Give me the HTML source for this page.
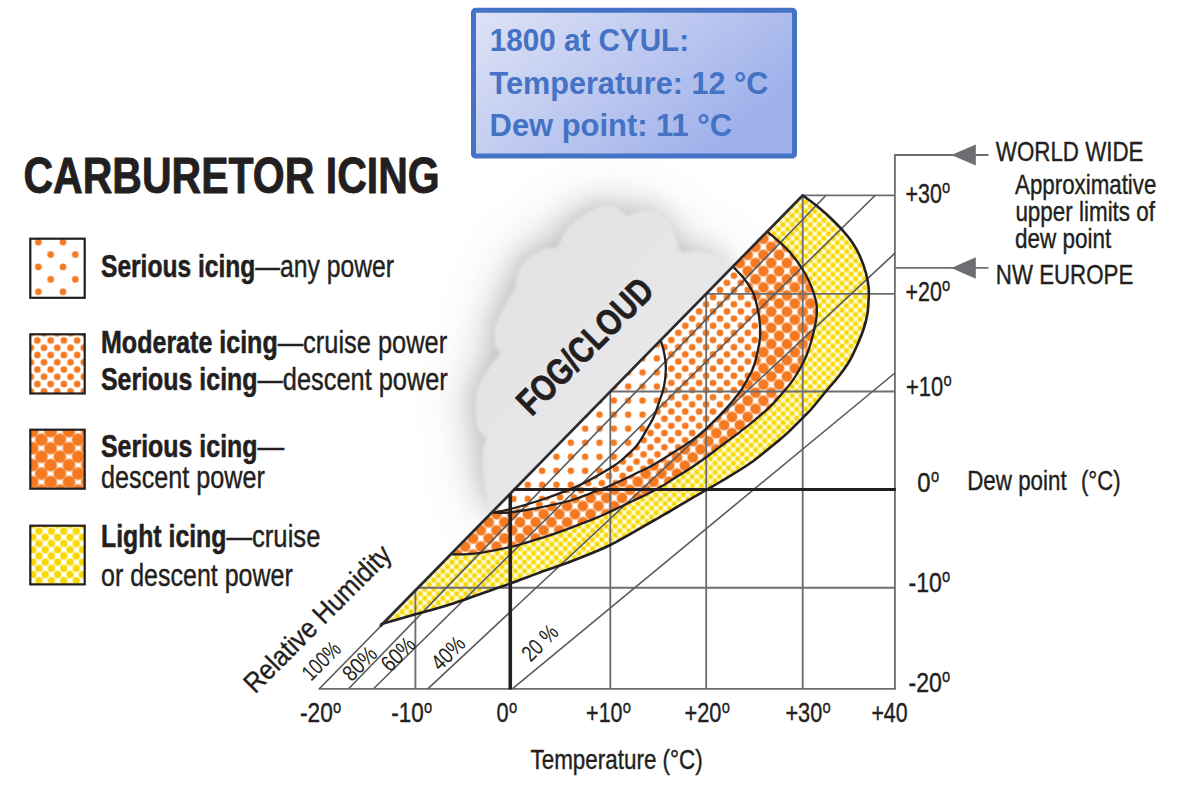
<!DOCTYPE html>
<html lang="en"><head><meta charset="utf-8"><title>Carburetor icing</title>
<style>html,body{margin:0;padding:0;background:#fff;}body{width:1184px;height:785px;overflow:hidden;}svg{display:block;font-family:"Liberation Sans",sans-serif;}</style>
</head><body>
<svg width="1184" height="785" viewBox="0 0 1184 785">
<defs>
<pattern id="pSparse" patternUnits="userSpaceOnUse" x="628.20" y="414.60" width="14.35" height="14.05"><circle cx="0.00" cy="0.00" r="3.60" fill="#f47920" opacity="0.38"/><circle cx="14.35" cy="0.00" r="3.60" fill="#f47920" opacity="0.38"/><circle cx="0.00" cy="14.05" r="3.60" fill="#f47920" opacity="0.38"/><circle cx="14.35" cy="14.05" r="3.60" fill="#f47920" opacity="0.38"/><circle cx="0.00" cy="0.00" r="3.00" fill="#f47920"/><circle cx="14.35" cy="0.00" r="3.00" fill="#f47920"/><circle cx="0.00" cy="14.05" r="3.00" fill="#f47920"/><circle cx="14.35" cy="14.05" r="3.00" fill="#f47920"/></pattern>
<pattern id="pMedium" patternUnits="userSpaceOnUse" x="664.40" y="418.70" width="13.90" height="14.30"><circle cx="0.00" cy="0.00" r="3.60" fill="#f47920" opacity="0.38"/><circle cx="13.90" cy="0.00" r="3.60" fill="#f47920" opacity="0.38"/><circle cx="0.00" cy="14.30" r="3.60" fill="#f47920" opacity="0.38"/><circle cx="13.90" cy="14.30" r="3.60" fill="#f47920" opacity="0.38"/><circle cx="6.95" cy="7.15" r="3.60" fill="#f47920" opacity="0.38"/><circle cx="0.00" cy="0.00" r="3.15" fill="#f47920"/><circle cx="13.90" cy="0.00" r="3.15" fill="#f47920"/><circle cx="0.00" cy="14.30" r="3.15" fill="#f47920"/><circle cx="13.90" cy="14.30" r="3.15" fill="#f47920"/><circle cx="6.95" cy="7.15" r="3.15" fill="#f47920"/></pattern>
<pattern id="pBig" patternUnits="userSpaceOnUse" x="763.40" y="254.90" width="15.70" height="16.20"><circle cx="0.00" cy="0.00" r="5.90" fill="#f47920" opacity="0.38"/><circle cx="15.70" cy="0.00" r="5.90" fill="#f47920" opacity="0.38"/><circle cx="0.00" cy="16.20" r="5.90" fill="#f47920" opacity="0.38"/><circle cx="15.70" cy="16.20" r="5.90" fill="#f47920" opacity="0.38"/><circle cx="7.85" cy="8.10" r="5.90" fill="#f47920" opacity="0.38"/><circle cx="0.00" cy="0.00" r="5.00" fill="#f47920"/><circle cx="15.70" cy="0.00" r="5.00" fill="#f47920"/><circle cx="0.00" cy="16.20" r="5.00" fill="#f47920"/><circle cx="15.70" cy="16.20" r="5.00" fill="#f47920"/><circle cx="7.85" cy="8.10" r="5.00" fill="#f47920"/></pattern>
<pattern id="pYel" patternUnits="userSpaceOnUse" x="842.00" y="310.20" width="9.07" height="9.00"><circle cx="0.00" cy="0.00" r="3.15" fill="#f8d800" opacity="0.38"/><circle cx="9.07" cy="0.00" r="3.15" fill="#f8d800" opacity="0.38"/><circle cx="0.00" cy="9.00" r="3.15" fill="#f8d800" opacity="0.38"/><circle cx="9.07" cy="9.00" r="3.15" fill="#f8d800" opacity="0.38"/><circle cx="4.54" cy="4.50" r="3.15" fill="#f8d800" opacity="0.38"/><circle cx="0.00" cy="0.00" r="2.25" fill="#f8d800"/><circle cx="9.07" cy="0.00" r="2.25" fill="#f8d800"/><circle cx="0.00" cy="9.00" r="2.25" fill="#f8d800"/><circle cx="9.07" cy="9.00" r="2.25" fill="#f8d800"/><circle cx="4.54" cy="4.50" r="2.25" fill="#f8d800"/></pattern>
<pattern id="lSparse" patternUnits="userSpaceOnUse" x="38.40" y="242.20" width="24.60" height="24.80"><circle cx="0.00" cy="0.00" r="3.70" fill="#f47920" opacity="0.38"/><circle cx="24.60" cy="0.00" r="3.70" fill="#f47920" opacity="0.38"/><circle cx="0.00" cy="24.80" r="3.70" fill="#f47920" opacity="0.38"/><circle cx="24.60" cy="24.80" r="3.70" fill="#f47920" opacity="0.38"/><circle cx="12.30" cy="12.40" r="3.70" fill="#f47920" opacity="0.38"/><circle cx="0.00" cy="0.00" r="3.10" fill="#f47920"/><circle cx="24.60" cy="0.00" r="3.10" fill="#f47920"/><circle cx="0.00" cy="24.80" r="3.10" fill="#f47920"/><circle cx="24.60" cy="24.80" r="3.10" fill="#f47920"/><circle cx="12.30" cy="12.40" r="3.10" fill="#f47920"/></pattern>
<pattern id="lMedium" patternUnits="userSpaceOnUse" x="37.40" y="340.50" width="13.26" height="14.52"><circle cx="0.00" cy="0.00" r="3.70" fill="#f47920" opacity="0.38"/><circle cx="13.26" cy="0.00" r="3.70" fill="#f47920" opacity="0.38"/><circle cx="0.00" cy="14.52" r="3.70" fill="#f47920" opacity="0.38"/><circle cx="13.26" cy="14.52" r="3.70" fill="#f47920" opacity="0.38"/><circle cx="6.63" cy="7.26" r="3.70" fill="#f47920" opacity="0.38"/><circle cx="0.00" cy="0.00" r="3.10" fill="#f47920"/><circle cx="13.26" cy="0.00" r="3.10" fill="#f47920"/><circle cx="0.00" cy="14.52" r="3.10" fill="#f47920"/><circle cx="13.26" cy="14.52" r="3.10" fill="#f47920"/><circle cx="6.63" cy="7.26" r="3.10" fill="#f47920"/></pattern>
<pattern id="lBig" patternUnits="userSpaceOnUse" x="41.40" y="439.70" width="18.40" height="16.94"><circle cx="0.00" cy="0.00" r="7.00" fill="#f47920" opacity="0.38"/><circle cx="18.40" cy="0.00" r="7.00" fill="#f47920" opacity="0.38"/><circle cx="0.00" cy="16.94" r="7.00" fill="#f47920" opacity="0.38"/><circle cx="18.40" cy="16.94" r="7.00" fill="#f47920" opacity="0.38"/><circle cx="9.20" cy="8.47" r="7.00" fill="#f47920" opacity="0.38"/><circle cx="0.00" cy="0.00" r="6.00" fill="#f47920"/><circle cx="18.40" cy="0.00" r="6.00" fill="#f47920"/><circle cx="0.00" cy="16.94" r="6.00" fill="#f47920"/><circle cx="18.40" cy="16.94" r="6.00" fill="#f47920"/><circle cx="9.20" cy="8.47" r="6.00" fill="#f47920"/></pattern>
<pattern id="lYel" patternUnits="userSpaceOnUse" x="39.00" y="531.10" width="12.44" height="12.40"><circle cx="0.00" cy="0.00" r="4.30" fill="#f8d800" opacity="0.38"/><circle cx="12.44" cy="0.00" r="4.30" fill="#f8d800" opacity="0.38"/><circle cx="0.00" cy="12.40" r="4.30" fill="#f8d800" opacity="0.38"/><circle cx="12.44" cy="12.40" r="4.30" fill="#f8d800" opacity="0.38"/><circle cx="6.22" cy="6.20" r="4.30" fill="#f8d800" opacity="0.38"/><circle cx="0.00" cy="0.00" r="3.40" fill="#f8d800"/><circle cx="12.44" cy="0.00" r="3.40" fill="#f8d800"/><circle cx="0.00" cy="12.40" r="3.40" fill="#f8d800"/><circle cx="12.44" cy="12.40" r="3.40" fill="#f8d800"/><circle cx="6.22" cy="6.20" r="3.40" fill="#f8d800"/></pattern>
<linearGradient id="gBlue" x1="0" y1="0" x2="1" y2="0.55"><stop offset="0" stop-color="#dee3f6"/><stop offset="0.5" stop-color="#bfcaf0"/><stop offset="1" stop-color="#9db0ea"/></linearGradient>
<linearGradient id="gCloud" x1="0" y1="0" x2="1" y2="1"><stop offset="0" stop-color="#e0e0e2"/><stop offset="0.45" stop-color="#e6e6e8"/><stop offset="1" stop-color="#ececee"/></linearGradient>
<filter id="fHalo" x="-40%" y="-40%" width="180%" height="180%"><feGaussianBlur stdDeviation="12"/></filter>
<filter id="fHalo2" x="-50%" y="-50%" width="200%" height="200%"><feGaussianBlur stdDeviation="26"/></filter>
<filter id="fSoft" x="-10%" y="-10%" width="120%" height="120%"><feGaussianBlur stdDeviation="1.6"/></filter>
<clipPath id="cpCloud"><path d="M318.2,687.6 L801.5,194.1 L802.7,0 L0,0 L0,785 L259.4,785 Z"/></clipPath>
<path id="cl" d="M742.0,259.0 C741.0,259.9 738.3,264.1 736.0,264.5 C733.7,264.9 731.5,263.1 728.3,261.6 C725.0,260.1 720.0,257.2 716.5,255.7 C713.0,254.2 710.2,253.3 707.0,252.5 C703.8,251.7 700.7,251.1 697.5,250.9 C694.3,250.7 690.8,251.5 688.0,251.5 C685.2,251.5 682.8,252.2 681.0,250.9 C679.2,249.7 678.4,246.3 677.5,244.0 C676.6,241.7 676.8,239.8 675.8,236.8 C674.8,233.8 673.8,229.7 671.5,226.1 C669.2,222.5 664.9,217.9 662.1,215.5 C659.4,213.1 657.4,212.4 655.0,211.5 C652.6,210.6 650.7,210.3 647.9,210.3 C645.1,210.3 641.4,210.6 638.0,211.5 C634.6,212.4 631.0,216.0 627.8,215.5 C624.6,215.0 622.1,210.2 619.0,208.5 C615.9,206.8 611.9,205.8 608.9,205.5 C605.9,205.2 603.6,205.8 601.0,206.5 C598.4,207.2 597.1,207.7 593.5,209.6 C589.9,211.5 583.8,214.5 579.3,217.8 C574.8,221.2 569.6,225.5 566.3,229.7 C562.9,233.8 561.0,239.8 559.2,242.7 C557.4,245.6 557.4,246.5 555.7,247.4 C554.0,248.3 551.4,247.6 549.0,248.0 C546.6,248.4 545.1,248.1 541.5,249.8 C537.9,251.5 531.0,254.7 527.3,258.0 C523.5,261.4 521.0,265.9 519.0,269.9 C517.0,273.8 515.6,278.8 515.0,281.7 C514.4,284.6 516.6,284.9 515.5,287.6 C514.4,290.4 510.6,294.4 508.4,298.2 C506.2,301.9 504.2,306.6 502.5,310.1 C500.8,313.6 499.5,316.5 498.4,319.0 C497.3,321.5 496.7,322.7 496.0,325.0 C495.3,327.3 494.6,330.2 494.3,333.0 C494.1,335.8 494.1,339.3 494.5,342.0 C494.9,344.7 496.1,347.1 497.0,349.0 C497.9,350.9 500.6,351.5 500.1,353.5 C499.6,355.5 496.1,358.2 494.0,361.0 C491.9,363.8 489.5,367.0 487.3,370.3 C485.1,373.6 482.5,377.9 481.0,381.0 C479.5,384.1 478.9,385.9 478.1,388.7 C477.3,391.5 476.4,394.3 476.0,397.9 C475.6,401.4 475.4,405.9 475.5,410.0 C475.6,414.1 475.9,418.8 476.6,422.3 C477.3,425.8 478.0,428.2 479.5,431.0 C481.0,433.8 485.1,436.3 485.7,439.1 C486.3,441.9 483.5,444.7 483.0,448.0 C482.5,451.3 482.4,454.1 482.5,459.0 C482.6,463.9 482.9,472.4 483.3,477.4 C483.7,482.4 484.3,485.4 485.0,489.0 C485.7,492.6 486.5,496.0 487.3,498.8 C488.1,501.6 489.0,503.7 490.0,506.0 C491.0,508.3 492.2,510.2 493.4,512.5 C494.6,514.8 496.4,518.8 497.0,520.0 L760,240 Z"/>
<path id="rY" d="M380.5,624.5 L802.7,195.3 C804.9,197.0 811.5,201.6 816.0,205.3 C820.5,209.0 825.7,213.4 830.0,217.5 C834.3,221.6 838.2,225.4 842.0,229.7 C845.8,234.0 849.9,238.9 853.0,243.5 C856.1,248.1 858.3,252.4 860.4,257.2 C862.5,262.0 864.4,267.5 865.8,272.5 C867.2,277.5 868.1,282.4 868.6,287.0 C869.1,291.6 868.8,295.5 868.6,300.0 C868.4,304.5 868.2,309.2 867.4,314.0 C866.6,318.8 865.3,323.8 863.6,329.0 C861.9,334.2 859.6,339.7 857.3,345.0 C854.9,350.3 852.5,355.8 849.5,361.0 C846.5,366.2 843.0,370.8 839.0,376.0 C835.0,381.2 830.0,386.5 825.4,392.0 C820.8,397.5 815.2,404.7 811.4,409.0 C807.6,413.3 806.8,413.7 802.7,417.8 C798.6,421.9 791.4,429.3 787.0,433.4 C782.6,437.5 782.4,437.5 776.3,442.4 C770.2,447.3 759.9,456.4 750.5,463.0 C741.1,469.6 727.4,477.5 720.0,482.0 C712.6,486.5 711.2,487.1 706.2,490.0 C701.2,492.9 696.5,495.5 690.0,499.3 C683.5,503.1 672.9,509.6 667.0,513.0 C661.1,516.5 664.2,514.7 654.7,520.0 C645.2,525.3 624.1,538.2 610.3,545.0 C596.5,551.8 584.0,556.3 572.0,561.0 C560.0,565.7 548.4,569.4 538.2,573.1 C528.0,576.9 517.3,581.1 510.6,583.5 C503.9,585.9 508.2,584.2 498.0,587.7 C487.8,591.2 462.9,600.4 449.1,604.8 C435.3,609.2 425.8,611.3 415.4,614.3 C405.0,617.3 392.5,620.9 386.7,622.6 C380.9,624.3 381.5,624.2 380.5,624.5 Z"/>
<path id="rB" d="M452.7,554.4 L767.2,231.6 C769.2,233.3 775.4,238.2 779.5,242.0 C783.6,245.8 787.8,249.6 791.7,254.2 C795.6,258.8 799.7,264.7 802.7,269.5 C805.8,274.3 808.1,279.1 810.0,283.2 C811.9,287.3 812.9,290.4 814.0,294.0 C815.1,297.6 816.2,301.3 816.6,305.0 C817.0,308.7 816.9,312.5 816.6,316.0 C816.3,319.5 815.6,322.8 815.0,326.0 C814.4,329.2 814.0,331.2 812.9,335.3 C811.8,339.4 810.1,345.8 808.4,350.6 C806.7,355.4 805.1,359.0 802.5,364.0 C799.9,369.0 795.6,376.1 792.6,380.6 C789.6,385.1 788.0,386.6 784.4,390.8 C780.8,395.1 775.5,401.3 770.7,406.1 C765.9,410.9 760.5,415.3 755.4,419.6 C750.3,423.9 744.2,428.6 740.1,431.8 C736.0,435.0 734.4,436.0 731.0,438.6 C727.6,441.2 723.6,444.1 719.5,447.2 C715.4,450.3 711.1,453.8 706.2,457.3 C701.3,460.9 695.0,465.2 690.0,468.5 C685.0,471.8 681.2,473.9 676.0,477.2 C670.8,480.4 665.6,484.3 659.0,488.0 C652.4,491.7 644.5,495.4 636.4,499.3 C628.3,503.2 617.2,508.4 610.3,511.6 C603.4,514.8 601.4,515.8 595.0,518.4 C588.6,521.0 580.0,524.3 572.0,527.3 C564.0,530.3 555.1,533.6 547.3,536.2 C539.5,538.8 531.1,541.2 525.0,543.0 C518.9,544.8 517.5,545.5 510.6,547.0 C503.7,548.5 490.8,551.1 483.7,552.3 C476.6,553.5 473.2,553.9 468.0,554.2 C462.8,554.6 455.2,554.4 452.7,554.4 Z"/>
<path id="rM" d="M493.6,512.6 L732.9,266.5 C734.5,268.3 739.9,273.6 742.8,277.1 C745.7,280.7 748.5,284.8 750.4,287.8 C752.3,290.8 752.8,291.6 754.0,295.0 C755.2,298.4 756.6,303.8 757.5,308.0 C758.4,312.2 759.0,315.4 759.5,320.0 C760.0,324.6 760.5,330.2 760.2,335.3 C759.9,340.4 759.1,345.0 757.9,350.6 C756.7,356.2 755.2,363.0 752.8,368.9 C750.4,374.8 745.5,382.5 743.4,386.2 C741.3,389.9 743.0,387.5 740.3,391.1 C737.6,394.7 732.6,401.4 727.0,407.6 C721.4,413.8 712.5,422.8 706.6,428.3 C700.7,433.8 698.1,435.9 691.5,440.6 C684.9,445.3 673.6,452.3 667.0,456.5 C660.4,460.7 656.8,462.9 651.7,465.7 C646.6,468.5 643.3,470.0 636.4,473.3 C629.5,476.6 618.0,482.2 610.4,485.5 C602.8,488.8 596.5,490.9 590.6,493.2 C584.8,495.4 581.0,497.2 575.3,499.0 C569.6,500.8 564.6,502.1 556.4,504.0 C548.1,505.9 534.4,508.7 525.8,510.2 C517.2,511.7 510.4,512.4 505.0,512.8 C499.6,513.2 495.5,512.6 493.6,512.6 Z"/>
<path id="rS" d="M493.6,512.6 L660.6,340.2 C661.1,341.8 662.7,346.7 663.5,350.0 C664.3,353.3 664.9,356.7 665.3,360.0 C665.7,363.3 665.9,366.5 665.8,370.0 C665.7,373.5 665.4,377.4 664.9,381.0 C664.4,384.6 663.6,388.2 662.7,391.5 C661.8,394.8 660.9,396.9 659.5,401.0 C658.1,405.1 656.2,411.2 654.1,416.0 C652.0,420.8 649.7,424.7 646.7,429.7 C643.8,434.7 640.7,440.9 636.4,446.0 C632.1,451.1 625.4,456.8 621.1,460.5 C616.8,464.2 615.5,464.8 610.4,468.0 C605.3,471.2 596.5,476.3 590.6,479.5 C584.8,482.7 580.4,484.8 575.3,487.1 C570.2,489.4 565.7,491.1 560.0,493.2 C554.3,495.3 549.3,497.4 541.1,500.0 C532.9,502.6 518.5,506.9 510.6,509.0 C502.7,511.1 496.4,512.0 493.6,512.6 Z"/>
</defs>
<rect width="1184" height="785" fill="#fff"/>
<g clip-path="url(#cpCloud)">
<use href="#cl" fill="#808084" opacity="0.34" filter="url(#fHalo2)" transform="translate(-8,-4)"/>
<use href="#cl" fill="#808084" opacity="0.34" filter="url(#fHalo)" transform="translate(-3,-2)"/>
<use href="#cl" fill="url(#gCloud)" filter="url(#fSoft)"/>
</g>
<use href="#rY" fill="#fffdf0"/><use href="#rY" fill="url(#pYel)"/>
<use href="#rB" fill="#fff"/><use href="#rB" fill="url(#pBig)"/>
<use href="#rM" fill="#fff"/><use href="#rM" fill="url(#pMedium)"/>
<use href="#rS" fill="#fff"/><use href="#rS" fill="url(#pSparse)"/>
<g stroke="#6d6e71" stroke-width="1.85" fill="none" stroke-linecap="butt">
<line x1="415.4" y1="590.8" x2="415.4" y2="688.8"/>
<line x1="511.2" y1="493.0" x2="511.2" y2="688.8"/>
<line x1="610.3" y1="391.8" x2="610.3" y2="688.8"/>
<line x1="706.2" y1="293.8" x2="706.2" y2="688.8"/>
<line x1="802.7" y1="195.3" x2="802.7" y2="688.8"/>
<line x1="802.7" y1="195.3" x2="894.9" y2="195.3"/>
<line x1="706.1" y1="293.9" x2="894.9" y2="293.9"/>
<line x1="610.6" y1="391.5" x2="894.9" y2="391.5"/>
<line x1="514.3" y1="489.8" x2="894.9" y2="489.8"/>
<line x1="418.4" y1="587.7" x2="894.9" y2="587.7"/>
<line x1="318.4" y1="688.8" x2="895.8" y2="688.8"/>
<line x1="894.9" y1="155" x2="894.9" y2="688.8"/>
<g stroke="#5a5a5d" stroke-width="1.6">
<line x1="319.4" y1="688.8" x2="802.7" y2="195.3"/>
<line x1="348.6" y1="688.8" x2="826.1" y2="195.3"/>
<line x1="373.5" y1="688.8" x2="875.3" y2="195.3"/>
<line x1="427.8" y1="688.8" x2="894.9" y2="253.2"/>
<line x1="512.3" y1="688.8" x2="894.9" y2="373.0"/>
</g>
<line x1="894.0" y1="155" x2="988.5" y2="155"/>
<line x1="894.9" y1="267.9" x2="988.5" y2="267.9"/>
</g>
<path d="M951.3,155 L975.8,144.6 L975.8,165.6 Z" fill="#6d6e71"/>
<path d="M951.3,267.9 L975.8,257.2 L975.8,278.8 Z" fill="#6d6e71"/>
<g stroke="#231f20" fill="none" stroke-linecap="round" stroke-linejoin="round">
<path d="M660.6,340.2 C661.1,341.8 662.7,346.7 663.5,350.0 C664.3,353.3 664.9,356.7 665.3,360.0 C665.7,363.3 665.9,366.5 665.8,370.0 C665.7,373.5 665.4,377.4 664.9,381.0 C664.4,384.6 663.6,388.2 662.7,391.5 C661.8,394.8 660.9,396.9 659.5,401.0 C658.1,405.1 656.2,411.2 654.1,416.0 C652.0,420.8 649.7,424.7 646.7,429.7 C643.8,434.7 640.7,440.9 636.4,446.0 C632.1,451.1 625.4,456.8 621.1,460.5 C616.8,464.2 615.5,464.8 610.4,468.0 C605.3,471.2 596.5,476.3 590.6,479.5 C584.8,482.7 580.4,484.8 575.3,487.1 C570.2,489.4 565.7,491.1 560.0,493.2 C554.3,495.3 549.3,497.4 541.1,500.0 C532.9,502.6 518.5,506.9 510.6,509.0 C502.7,511.1 496.4,512.0 493.6,512.6" stroke-width="2.3"/>
<path d="M732.9,266.5 C734.5,268.3 739.9,273.6 742.8,277.1 C745.7,280.7 748.5,284.8 750.4,287.8 C752.3,290.8 752.8,291.6 754.0,295.0 C755.2,298.4 756.6,303.8 757.5,308.0 C758.4,312.2 759.0,315.4 759.5,320.0 C760.0,324.6 760.5,330.2 760.2,335.3 C759.9,340.4 759.1,345.0 757.9,350.6 C756.7,356.2 755.2,363.0 752.8,368.9 C750.4,374.8 745.5,382.5 743.4,386.2 C741.3,389.9 743.0,387.5 740.3,391.1 C737.6,394.7 732.6,401.4 727.0,407.6 C721.4,413.8 712.5,422.8 706.6,428.3 C700.7,433.8 698.1,435.9 691.5,440.6 C684.9,445.3 673.6,452.3 667.0,456.5 C660.4,460.7 656.8,462.9 651.7,465.7 C646.6,468.5 643.3,470.0 636.4,473.3 C629.5,476.6 618.0,482.2 610.4,485.5 C602.8,488.8 596.5,490.9 590.6,493.2 C584.8,495.4 581.0,497.2 575.3,499.0 C569.6,500.8 564.6,502.1 556.4,504.0 C548.1,505.9 534.4,508.7 525.8,510.2 C517.2,511.7 510.4,512.4 505.0,512.8 C499.6,513.2 495.5,512.6 493.6,512.6" stroke-width="2.3"/>
<path d="M767.2,231.6 C769.2,233.3 775.4,238.2 779.5,242.0 C783.6,245.8 787.8,249.6 791.7,254.2 C795.6,258.8 799.7,264.7 802.7,269.5 C805.8,274.3 808.1,279.1 810.0,283.2 C811.9,287.3 812.9,290.4 814.0,294.0 C815.1,297.6 816.2,301.3 816.6,305.0 C817.0,308.7 816.9,312.5 816.6,316.0 C816.3,319.5 815.6,322.8 815.0,326.0 C814.4,329.2 814.0,331.2 812.9,335.3 C811.8,339.4 810.1,345.8 808.4,350.6 C806.7,355.4 805.1,359.0 802.5,364.0 C799.9,369.0 795.6,376.1 792.6,380.6 C789.6,385.1 788.0,386.6 784.4,390.8 C780.8,395.1 775.5,401.3 770.7,406.1 C765.9,410.9 760.5,415.3 755.4,419.6 C750.3,423.9 744.2,428.6 740.1,431.8 C736.0,435.0 734.4,436.0 731.0,438.6 C727.6,441.2 723.6,444.1 719.5,447.2 C715.4,450.3 711.1,453.8 706.2,457.3 C701.3,460.9 695.0,465.2 690.0,468.5 C685.0,471.8 681.2,473.9 676.0,477.2 C670.8,480.4 665.6,484.3 659.0,488.0 C652.4,491.7 644.5,495.4 636.4,499.3 C628.3,503.2 617.2,508.4 610.3,511.6 C603.4,514.8 601.4,515.8 595.0,518.4 C588.6,521.0 580.0,524.3 572.0,527.3 C564.0,530.3 555.1,533.6 547.3,536.2 C539.5,538.8 531.1,541.2 525.0,543.0 C518.9,544.8 517.5,545.5 510.6,547.0 C503.7,548.5 490.8,551.1 483.7,552.3 C476.6,553.5 473.2,553.9 468.0,554.2 C462.8,554.6 455.2,554.4 452.7,554.4" stroke-width="2.3"/>
<path d="M802.7,195.3 C804.9,197.0 811.5,201.6 816.0,205.3 C820.5,209.0 825.7,213.4 830.0,217.5 C834.3,221.6 838.2,225.4 842.0,229.7 C845.8,234.0 849.9,238.9 853.0,243.5 C856.1,248.1 858.3,252.4 860.4,257.2 C862.5,262.0 864.4,267.5 865.8,272.5 C867.2,277.5 868.1,282.4 868.6,287.0 C869.1,291.6 868.8,295.5 868.6,300.0 C868.4,304.5 868.2,309.2 867.4,314.0 C866.6,318.8 865.3,323.8 863.6,329.0 C861.9,334.2 859.6,339.7 857.3,345.0 C854.9,350.3 852.5,355.8 849.5,361.0 C846.5,366.2 843.0,370.8 839.0,376.0 C835.0,381.2 830.0,386.5 825.4,392.0 C820.8,397.5 815.2,404.7 811.4,409.0 C807.6,413.3 806.8,413.7 802.7,417.8 C798.6,421.9 791.4,429.3 787.0,433.4 C782.6,437.5 782.4,437.5 776.3,442.4 C770.2,447.3 759.9,456.4 750.5,463.0 C741.1,469.6 727.4,477.5 720.0,482.0 C712.6,486.5 711.2,487.1 706.2,490.0 C701.2,492.9 696.5,495.5 690.0,499.3 C683.5,503.1 672.9,509.6 667.0,513.0 C661.1,516.5 664.2,514.7 654.7,520.0 C645.2,525.3 624.1,538.2 610.3,545.0 C596.5,551.8 584.0,556.3 572.0,561.0 C560.0,565.7 548.4,569.4 538.2,573.1 C528.0,576.9 517.3,581.1 510.6,583.5 C503.9,585.9 508.2,584.2 498.0,587.7 C487.8,591.2 462.9,600.4 449.1,604.8 C435.3,609.2 425.8,611.3 415.4,614.3 C405.0,617.3 392.5,620.9 386.7,622.6 C380.9,624.3 381.5,624.2 380.5,624.5" stroke-width="2.6" stroke-linecap="butt"/>
<line x1="380.0" y1="626.5" x2="803.3" y2="194.7" stroke="#2c2c30" stroke-width="2.7" stroke-linecap="butt"/>
<line x1="513.5" y1="489.5" x2="895.8" y2="489.5" stroke-width="3.1" stroke-linecap="butt"/>
<line x1="510.2" y1="494.5" x2="510.2" y2="689.6" stroke-width="3.5" stroke-linecap="butt"/>
</g>
<rect x="473.5" y="10.3" width="321" height="145.8" rx="2.2" fill="url(#gBlue)" stroke="#4472c4" stroke-width="5"/>
<text x="489.8" y="51.0" font-size="31" font-weight="bold" textLength="199.3" lengthAdjust="spacingAndGlyphs" fill="#4472c4" >1800 at CYUL:</text>
<text x="489.6" y="93.7" font-size="31" font-weight="bold" textLength="278.7" lengthAdjust="spacingAndGlyphs" fill="#4472c4" >Temperature: 12 °C</text>
<text x="489.6" y="136.2" font-size="31" font-weight="bold" textLength="242.4" lengthAdjust="spacingAndGlyphs" fill="#4472c4" >Dew point: 11 °C</text>
<text x="23.4" y="193.2" font-size="50.6" font-weight="bold" textLength="416.4" lengthAdjust="spacingAndGlyphs" fill="#231f20" stroke="#231f20" stroke-width="0.9" stroke-linejoin="round">CARBURETOR ICING</text>
<rect x="30.3" y="238.7" width="54.4" height="59.1" fill="#fff"/>
<rect x="30.3" y="238.7" width="54.4" height="59.1" fill="url(#lSparse)" stroke="#231f20" stroke-width="2.2"/>
<rect x="30.3" y="334.3" width="54.4" height="59.2" fill="#fff"/>
<rect x="30.3" y="334.3" width="54.4" height="59.2" fill="url(#lMedium)" stroke="#231f20" stroke-width="2.2"/>
<rect x="30.3" y="429.7" width="54.4" height="59.0" fill="#fff"/>
<rect x="30.3" y="429.7" width="54.4" height="59.0" fill="url(#lBig)" stroke="#231f20" stroke-width="2.2"/>
<rect x="30.3" y="525.7" width="54.4" height="58.7" fill="#fff"/>
<rect x="30.3" y="525.7" width="54.4" height="58.7" fill="url(#lYel)" stroke="#231f20" stroke-width="2.2"/>
<text x="101.0" y="276.9" font-size="30.6" font-weight="bold" textLength="154.2" lengthAdjust="spacingAndGlyphs" fill="#231f20" stroke="#231f20" stroke-width="0.55" stroke-linejoin="round">Serious icing</text>
<text x="255.2" y="276.9" font-size="30.6" textLength="138.9" lengthAdjust="spacingAndGlyphs" fill="#231f20" stroke="#231f20" stroke-width="0.4">—any power</text>
<text x="101.0" y="353.4" font-size="30.6" font-weight="bold" textLength="176.7" lengthAdjust="spacingAndGlyphs" fill="#231f20" stroke="#231f20" stroke-width="0.55" stroke-linejoin="round">Moderate icing</text>
<text x="277.7" y="353.4" font-size="30.6" textLength="169.5" lengthAdjust="spacingAndGlyphs" fill="#231f20" stroke="#231f20" stroke-width="0.4">—cruise power</text>
<text x="101.0" y="389.8" font-size="30.6" font-weight="bold" textLength="156.5" lengthAdjust="spacingAndGlyphs" fill="#231f20" stroke="#231f20" stroke-width="0.55" stroke-linejoin="round">Serious icing</text>
<text x="257.5" y="389.8" font-size="30.6" textLength="190.3" lengthAdjust="spacingAndGlyphs" fill="#231f20" stroke="#231f20" stroke-width="0.4">—descent power</text>
<text x="101.0" y="456.9" font-size="30.6" font-weight="bold" textLength="156.5" lengthAdjust="spacingAndGlyphs" fill="#231f20" stroke="#231f20" stroke-width="0.55" stroke-linejoin="round">Serious icing</text>
<text x="257.5" y="456.9" font-size="30.6" textLength="26.7" lengthAdjust="spacingAndGlyphs" fill="#231f20" stroke="#231f20" stroke-width="0.4">—</text>
<text x="101.0" y="488.2" font-size="30.6" textLength="163.9" lengthAdjust="spacingAndGlyphs" fill="#231f20" stroke="#231f20" stroke-width="0.4">descent power</text>
<text x="101.0" y="547.4" font-size="30.6" font-weight="bold" textLength="125.4" lengthAdjust="spacingAndGlyphs" fill="#231f20" stroke="#231f20" stroke-width="0.55" stroke-linejoin="round">Light icing</text>
<text x="226.4" y="547.4" font-size="30.6" textLength="94.0" lengthAdjust="spacingAndGlyphs" fill="#231f20" stroke="#231f20" stroke-width="0.4">—cruise</text>
<text x="101.0" y="585.8" font-size="30.6" textLength="191.8" lengthAdjust="spacingAndGlyphs" fill="#231f20" stroke="#231f20" stroke-width="0.4">or descent power</text>
<text x="300.0" y="722.2" font-size="28" textLength="32.8" lengthAdjust="spacingAndGlyphs" fill="#231f20" stroke="#231f20" stroke-width="0.4">-20</text>
<text x="333.1" y="712.5" font-size="19.040000000000003" textLength="8.2" lengthAdjust="spacingAndGlyphs" fill="#231f20" stroke="#231f20" stroke-width="0.4">o</text>
<text x="391.3" y="722.2" font-size="28" textLength="32.5" lengthAdjust="spacingAndGlyphs" fill="#231f20" stroke="#231f20" stroke-width="0.4">-10</text>
<text x="424.1" y="712.5" font-size="19.040000000000003" textLength="8.2" lengthAdjust="spacingAndGlyphs" fill="#231f20" stroke="#231f20" stroke-width="0.4">o</text>
<text x="496.5" y="722.2" font-size="28" textLength="12.1" lengthAdjust="spacingAndGlyphs" fill="#231f20" stroke="#231f20" stroke-width="0.4">0</text>
<text x="508.9" y="712.5" font-size="19.040000000000003" textLength="8.2" lengthAdjust="spacingAndGlyphs" fill="#231f20" stroke="#231f20" stroke-width="0.4">o</text>
<text x="586.1" y="722.2" font-size="28" textLength="36.4" lengthAdjust="spacingAndGlyphs" fill="#231f20" stroke="#231f20" stroke-width="0.4">+10</text>
<text x="622.8" y="712.5" font-size="19.040000000000003" textLength="8.2" lengthAdjust="spacingAndGlyphs" fill="#231f20" stroke="#231f20" stroke-width="0.4">o</text>
<text x="684.5" y="722.2" font-size="28" textLength="37.0" lengthAdjust="spacingAndGlyphs" fill="#231f20" stroke="#231f20" stroke-width="0.4">+20</text>
<text x="721.8" y="712.5" font-size="19.040000000000003" textLength="8.2" lengthAdjust="spacingAndGlyphs" fill="#231f20" stroke="#231f20" stroke-width="0.4">o</text>
<text x="785.4" y="722.2" font-size="28" textLength="36.8" lengthAdjust="spacingAndGlyphs" fill="#231f20" stroke="#231f20" stroke-width="0.4">+30</text>
<text x="822.5" y="712.5" font-size="19.040000000000003" textLength="8.2" lengthAdjust="spacingAndGlyphs" fill="#231f20" stroke="#231f20" stroke-width="0.4">o</text>
<text x="871.4" y="722.4" font-size="28" textLength="36.2" lengthAdjust="spacingAndGlyphs" fill="#231f20" stroke="#231f20" stroke-width="0.4">+40</text>
<text x="530.5" y="768.8" font-size="28" textLength="172.2" lengthAdjust="spacingAndGlyphs" fill="#231f20" stroke="#231f20" stroke-width="0.4">Temperature (°C)</text>
<text x="905.5" y="203.0" font-size="28" textLength="36.3" lengthAdjust="spacingAndGlyphs" fill="#231f20" stroke="#231f20" stroke-width="0.4">+30</text>
<text x="942.1" y="193.3" font-size="19.040000000000003" textLength="8.2" lengthAdjust="spacingAndGlyphs" fill="#231f20" stroke="#231f20" stroke-width="0.4">o</text>
<text x="905.5" y="300.5" font-size="28" textLength="36.3" lengthAdjust="spacingAndGlyphs" fill="#231f20" stroke="#231f20" stroke-width="0.4">+20</text>
<text x="942.1" y="290.8" font-size="19.040000000000003" textLength="8.2" lengthAdjust="spacingAndGlyphs" fill="#231f20" stroke="#231f20" stroke-width="0.4">o</text>
<text x="905.9" y="395.5" font-size="28" textLength="37.3" lengthAdjust="spacingAndGlyphs" fill="#231f20" stroke="#231f20" stroke-width="0.4">+10</text>
<text x="943.5" y="385.8" font-size="19.040000000000003" textLength="8.2" lengthAdjust="spacingAndGlyphs" fill="#231f20" stroke="#231f20" stroke-width="0.4">o</text>
<text x="917.3" y="491.7" font-size="28" textLength="13.3" lengthAdjust="spacingAndGlyphs" fill="#231f20" stroke="#231f20" stroke-width="0.4">0</text>
<text x="930.9" y="482.0" font-size="19.040000000000003" textLength="8.2" lengthAdjust="spacingAndGlyphs" fill="#231f20" stroke="#231f20" stroke-width="0.4">o</text>
<text x="908.5" y="591.6" font-size="28" textLength="33.3" lengthAdjust="spacingAndGlyphs" fill="#231f20" stroke="#231f20" stroke-width="0.4">-10</text>
<text x="942.1" y="581.9" font-size="19.040000000000003" textLength="8.2" lengthAdjust="spacingAndGlyphs" fill="#231f20" stroke="#231f20" stroke-width="0.4">o</text>
<text x="908.5" y="691.5" font-size="28" textLength="33.3" lengthAdjust="spacingAndGlyphs" fill="#231f20" stroke="#231f20" stroke-width="0.4">-20</text>
<text x="942.1" y="681.8" font-size="19.040000000000003" textLength="8.2" lengthAdjust="spacingAndGlyphs" fill="#231f20" stroke="#231f20" stroke-width="0.4">o</text>
<text x="967.2" y="490.0" font-size="28" textLength="99.5" lengthAdjust="spacingAndGlyphs" fill="#231f20" stroke="#231f20" stroke-width="0.4">Dew point</text>
<text x="1081.0" y="490.0" font-size="28" textLength="39.5" lengthAdjust="spacingAndGlyphs" fill="#231f20" stroke="#231f20" stroke-width="0.4">(°C)</text>
<text x="995.8" y="161.2" font-size="27.8" textLength="147.7" lengthAdjust="spacingAndGlyphs" fill="#231f20" stroke="#231f20" stroke-width="0.4">WORLD WIDE</text>
<text x="1015.0" y="194.0" font-size="27.8" textLength="141.4" lengthAdjust="spacingAndGlyphs" fill="#231f20" stroke="#231f20" stroke-width="0.4">Approximative</text>
<text x="1015.4" y="221.0" font-size="27.8" textLength="139.6" lengthAdjust="spacingAndGlyphs" fill="#231f20" stroke="#231f20" stroke-width="0.4">upper limits of</text>
<text x="1015.0" y="248.4" font-size="27.8" textLength="96.2" lengthAdjust="spacingAndGlyphs" fill="#231f20" stroke="#231f20" stroke-width="0.4">dew point</text>
<text x="995.8" y="284.2" font-size="27.8" textLength="137.5" lengthAdjust="spacingAndGlyphs" fill="#231f20" stroke="#231f20" stroke-width="0.4">NW EUROPE</text>
<text x="0" y="0" font-size="36.5" font-weight="bold" textLength="176.0" lengthAdjust="spacingAndGlyphs" transform="translate(531.5,417.3) rotate(-45)" fill="#231f20" stroke="#231f20" stroke-width="0.8">FOG/CLOUD</text>
<text x="0" y="0" font-size="28" textLength="195.5" lengthAdjust="spacingAndGlyphs" transform="translate(255.0,694.6) rotate(-45)" fill="#231f20" stroke="#231f20" stroke-width="0.4">Relative Humidity</text>
<text x="0" y="0" font-size="22.5" textLength="44.5" lengthAdjust="spacingAndGlyphs" transform="translate(311.0,682.0) rotate(-45)" fill="#231f20" >100%</text>
<text x="0" y="0" font-size="22.5" textLength="38.5" lengthAdjust="spacingAndGlyphs" transform="translate(351.5,682.5) rotate(-45)" fill="#231f20" >80%</text>
<text x="0" y="0" font-size="22.5" textLength="38.5" lengthAdjust="spacingAndGlyphs" transform="translate(390.0,673.0) rotate(-45)" fill="#231f20" >60%</text>
<text x="0" y="0" font-size="22.5" textLength="37.5" lengthAdjust="spacingAndGlyphs" transform="translate(440.2,671.8) rotate(-45)" fill="#231f20" >40%</text>
<text x="0" y="0" font-size="22.5" textLength="41.0" lengthAdjust="spacingAndGlyphs" transform="translate(530.8,662.8) rotate(-45)" fill="#231f20" >20 %</text>
</svg></body></html>
